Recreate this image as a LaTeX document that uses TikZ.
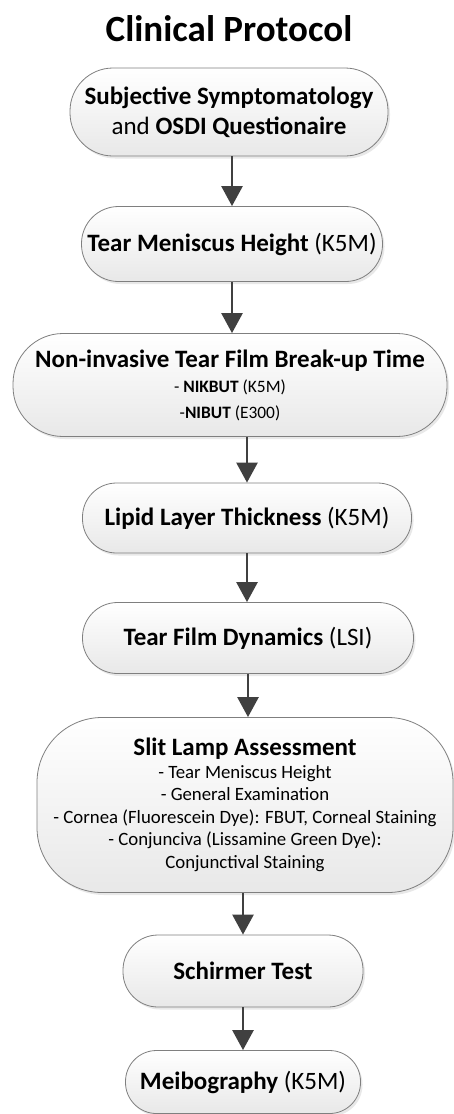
\documentclass[tikz,border=0pt]{standalone}
\usepackage{fontspec}
\setmainfont{Carlito}
\usepackage{tikz}
\usetikzlibrary{shapes,arrows.meta,shadows}
\definecolor{edgegray}{HTML}{7F7F7F}
\definecolor{arrowgray}{HTML}{404040}
\newcommand{\titletext}{\fontsize{37}{44}\selectfont}
\newcommand{\bigtext}{\fontsize{25}{30}\selectfont}
\newcommand{\midtext}{\fontsize{25}{30}\selectfont}
\newcommand{\subtext}{\fontsize{17.4}{25.5}\selectfont}
\newcommand{\smalltext}{\fontsize{18.8}{22.5}\selectfont}
\tikzstyle{block} = [rectangle, draw=edgegray, line width=0.8pt, top color=white, bottom color=gray!18, align=center, inner sep=0pt, drop shadow={opacity=0.18, shadow xshift=2pt, shadow yshift=-2.5pt}]
\tikzstyle{line} = [draw=arrowgray, line width=2.6pt, -{Triangle[width=21pt,length=20pt]}]

\begin{document}
\begin{tikzpicture}[x=1pt,y=1pt]
\useasboundingbox (0,0) rectangle (454,-1114);
\node [anchor=base, font=\titletext\bfseries] (title) at (229,-41) {Clinical Protocol};
\node [block, minimum width=318pt, minimum height=88pt, rounded corners=43pt, font=\midtext] (osdi) at (229,-112) {\textbf{Subjective Symptomatology}\\ and \textbf{OSDI Questionaire}};
\node [block, minimum width=301pt, minimum height=75pt, rounded corners=37pt, font=\bigtext] (tmh) at (232,-244) {\textbf{Tear Meniscus Height} (K5M)};
\node [block, minimum width=434pt, minimum height=103pt, rounded corners=50pt, font=\subtext] (nibut) at (230,-385) {{\midtext\bfseries Non-invasive Tear Film Break-up Time}\\ - \textbf{NIKBUT} (K5M)\\ -\textbf{NIBUT} (E300)};
\node [block, minimum width=329pt, minimum height=70pt, rounded corners=34pt, font=\bigtext] (lipid) at (247,-518) {\textbf{Lipid Layer Thickness} (K5M)};
\node [block, minimum width=331pt, minimum height=71pt, rounded corners=35pt, font=\bigtext] (dynamics) at (248,-638) {\textbf{Tear Film Dynamics} (LSI)};
\node [block, minimum width=416pt, minimum height=175pt, rounded corners=65pt, font=\smalltext] (slitlamp) at (245,-805) {{\midtext\bfseries Slit Lamp Assessment}\\ - Tear Meniscus Height\\ - General Examination\\ - Cornea (Fluorescein Dye): FBUT, Corneal Staining\\ - Conjunciva (Lissamine Green Dye):\\ Conjunctival Staining};
\node [block, minimum width=240pt, minimum height=72pt, rounded corners=35pt, font=\midtext] (schirmer) at (243,-971) {\textbf{Schirmer Test}};
\node [block, minimum width=235pt, minimum height=63pt, rounded corners=31pt, font=\midtext] (meibo) at (243,-1082) {\textbf{Meibography} (K5M)};
\path [line] (osdi.south -| tmh.north) -- (tmh.north);
\path [line] (tmh.south) -- (tmh.south |- nibut.north);
\path [line] (nibut.south -| lipid.north) -- (lipid.north);
\path [line] (lipid.south) -- (lipid.south |- dynamics.north);
\path [line] (dynamics.south) -- (dynamics.south |- slitlamp.north);
\path [line] (slitlamp.south -| schirmer.north) -- (schirmer.north);
\path [line] (schirmer.south) -- (meibo.north);
\end{tikzpicture}
\end{document}
